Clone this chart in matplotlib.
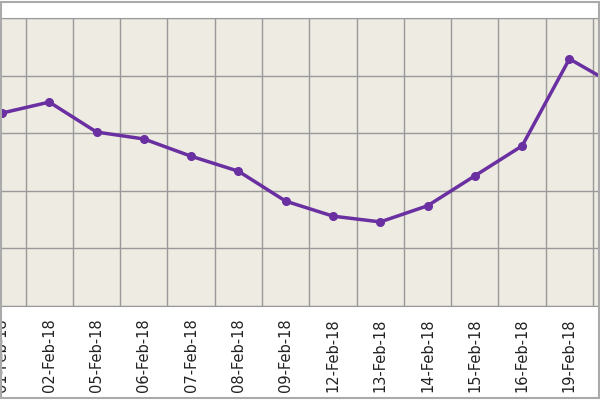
import matplotlib
matplotlib.use("Agg")
import matplotlib.pyplot as plt
from matplotlib.patches import Rectangle

dates = ["01-Feb-18","02-Feb-18","05-Feb-18","06-Feb-18","07-Feb-18","08-Feb-18","09-Feb-18",
         "12-Feb-18","13-Feb-18","14-Feb-18","15-Feb-18","16-Feb-18","19-Feb-18","20-Feb-18"]
values = [3.35,3.54,3.02,2.90,2.60,2.34,1.82,1.56,1.46,1.74,2.26,2.78,4.29,3.82]

fig = plt.figure(figsize=(6,4), dpi=100)
ax = fig.add_axes([-21.65/600, 94/400, 662/600, 288/400])
ax.set_facecolor("#edebe2")
x = list(range(len(dates)))
ax.plot(x, values, color="#6a2fa0", lw=2.5, marker="o", ms=5.5)
ax.set_xlim(-0.5, len(dates)-0.5)
ax.set_ylim(0, 5)
ax.set_yticks(range(6))
ax.set_yticklabels([])
ax.set_xticks(x)
ax.set_xticklabels(dates, rotation=90, fontsize=10.5, family="DejaVu Sans", color="#222222")
ax.set_xticks([i+0.5 for i in x[:-1]], minor=True)
ax.grid(False)
ax.grid(which="minor", axis="x", color="#999999", lw=1)
ax.grid(which="major", axis="y", color="#999999", lw=1)
ax.tick_params(axis="both", which="both", length=0)
ax.tick_params(axis="x", pad=9)
for s in ax.spines.values():
    s.set_color("#999999")
fig.patches.append(Rectangle((0.002,0.005),0.996,0.99, transform=fig.transFigure,
                             fill=False, ec="#aaaaaa", lw=1.5))
fig.savefig("out.png", dpi=100)
